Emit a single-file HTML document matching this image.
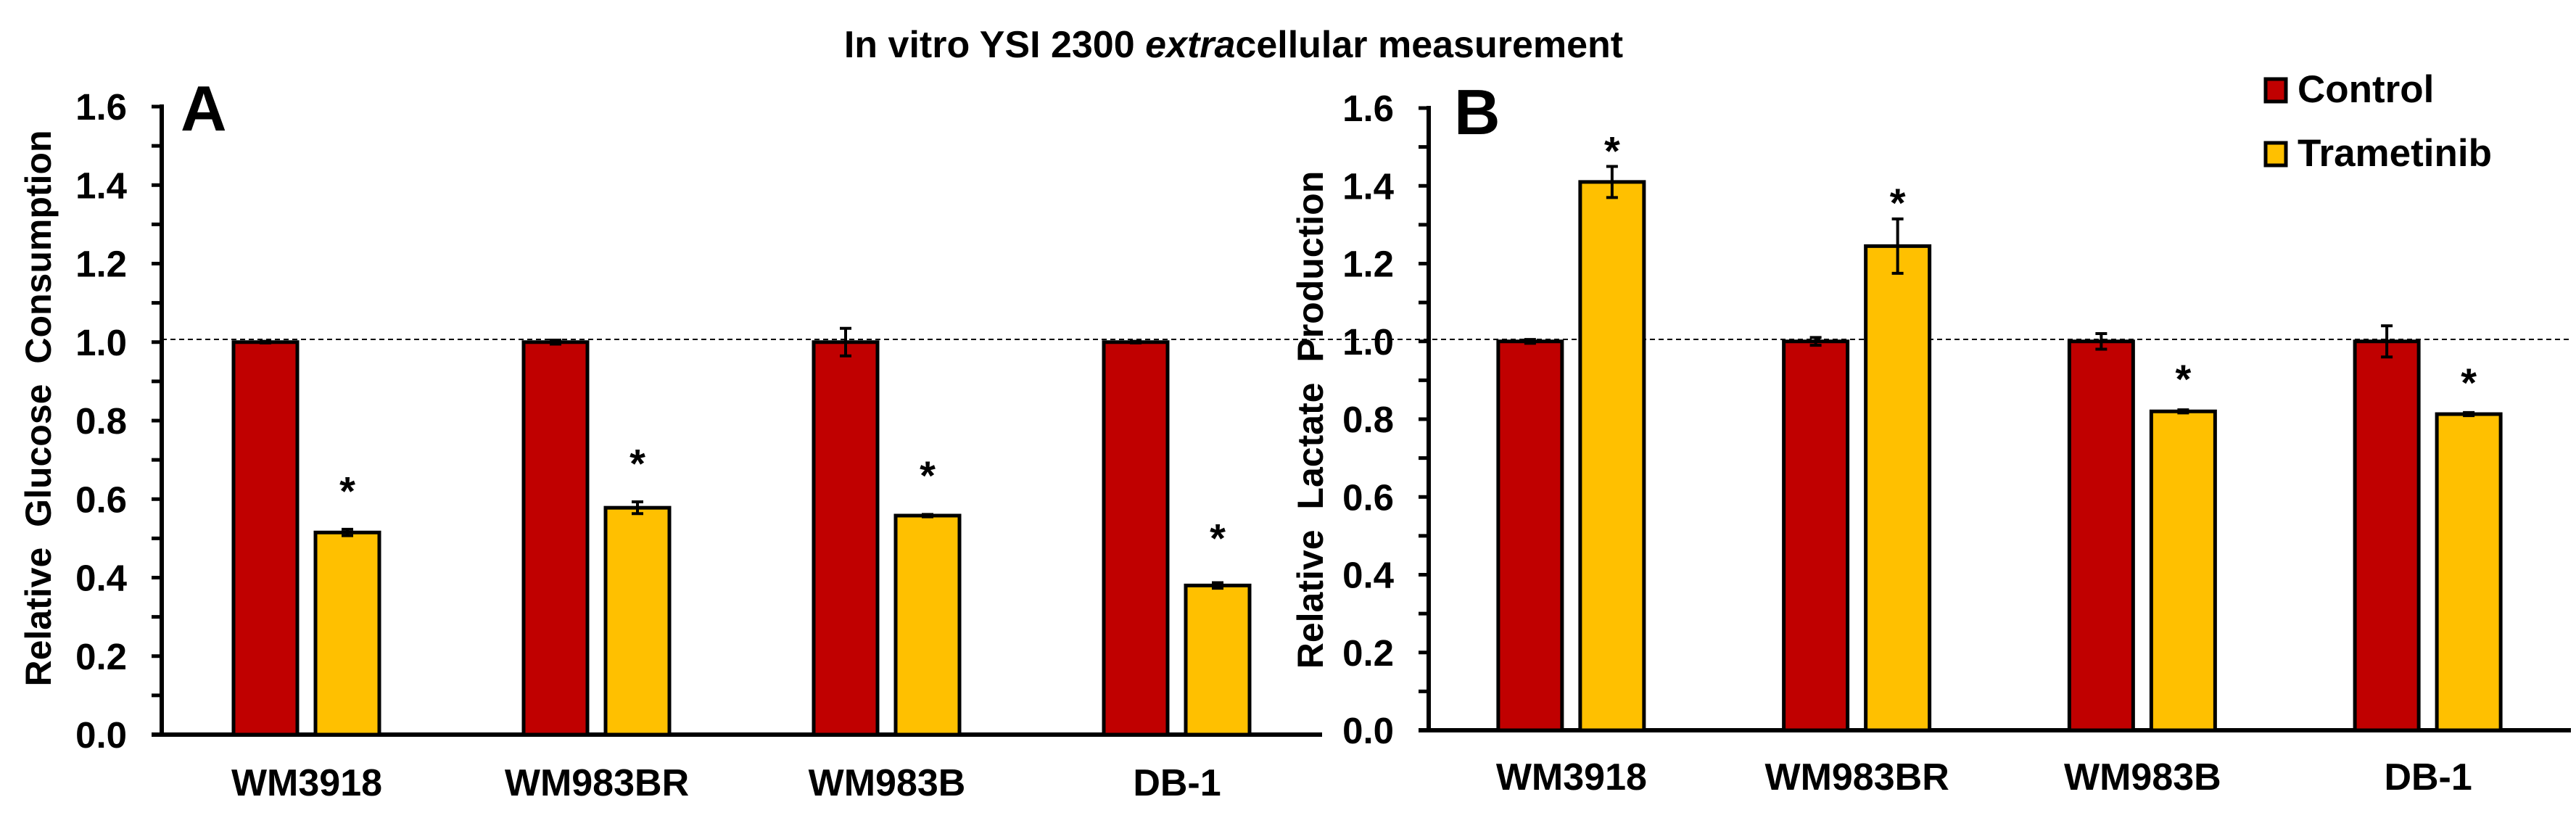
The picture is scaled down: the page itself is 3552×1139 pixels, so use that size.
<!DOCTYPE html>
<html><head><meta charset="utf-8"><style>
html,body{margin:0;padding:0;background:#fff;}
svg{display:block;font-family:"Liberation Sans",Arial,sans-serif;}
</style></head><body>
<svg id="chart" width="3552" height="1139" viewBox="0 0 3552 1139" xmlns="http://www.w3.org/2000/svg">
<text x="1701" y="79" font-size="52" font-weight="bold" text-anchor="middle">In vitro YSI 2300 <tspan font-style="italic">extra</tspan>cellular measurement</text>
<line x1="223" x2="3545" y1="468" y2="468" stroke="#000" stroke-width="2" stroke-dasharray="7,5"/>
<g id="gA"></g>
<g id="gB"></g>
<g>
<rect x="3124" y="109" width="28" height="31" fill="#C00000" stroke="#000" stroke-width="5"/>
<text x="3168" y="141" font-size="53" font-weight="bold">Control</text>
<rect x="3124" y="197" width="28" height="31" fill="#FFC000" stroke="#000" stroke-width="5"/>
<text x="3168" y="229" font-size="53" font-weight="bold">Trametinib</text>
</g>
</svg>
<script>
const categories = ["WM3918","WM983BR","WM983B","DB-1"];
const yTicks = ["0.0","0.2","0.4","0.6","0.8","1.0","1.2","1.4","1.6"];
const glucoseControl = [1.0, 1.0, 1.0, 1.0];
const glucoseControlErr = [0.002, 0.005, 0.035, 0.002];
const glucoseTram = [0.515, 0.578, 0.558, 0.38];
const glucoseTramErr = [0.008, 0.015, 0.003, 0.007];
const glucoseStars = [0.64, 0.71, 0.68, 0.52];
const lactateControl = [1.0, 1.0, 1.0, 1.0];
const lactateControlErr = [0.005, 0.01, 0.02, 0.04];
const lactateTram = [1.41, 1.245, 0.82, 0.813];
const lactateTramErr = [0.04, 0.07, 0.004, 0.004];
const lactateStars = [1.51, 1.376, 0.923, 0.914];

const NS = "http://www.w3.org/2000/svg";
function mk(parent, tag, attrs, text){
  const e = document.createElementNS(NS, tag);
  for (const k in attrs) e.setAttribute(k, attrs[k]);
  if (text !== undefined) e.textContent = text;
  parent.appendChild(e);
  return e;
}
function panel(g, cfg){
  const yS = v => cfg.y0 - v * (cfg.y0 - cfg.y16) / 1.6;
  const catW = (cfg.x1 - cfg.x0) / categories.length;
  const xC = i => cfg.x0 + catW * (i + 0.5);
  // axes
  let a = mk(g, "line", {x1: cfg.x0, x2: cfg.x0, y1: yS(1.6)-3, y2: cfg.y0, stroke: "#000", "stroke-width": 6});
  
  
  for (let k = 0; k <= 16; k++) {
    const v = k / 10;
    const t = mk(g, "line", {x1: cfg.x0 - 14, x2: cfg.x0, y1: yS(v), y2: yS(v), stroke: "#000", "stroke-width": 5});
    
    
  }
  yTicks.forEach((lab, k) => {
    const t = mk(g, "text", {x: cfg.x0 - 48, y: yS(k * 0.2) + 18, "font-size": 51, "font-weight": "bold", "text-anchor": "end"}, lab);
    
    
  });
  const xa = mk(g, "line", {x1: cfg.x0 - 14, x2: cfg.x1, y1: cfg.y0, y2: cfg.y0, stroke: "#000", "stroke-width": 6});
  
  
  const yt = mk(g, "text", {x: 0, y: 0, "font-size": 50, "font-weight": "bold", "text-anchor": "middle", "word-spacing": "14",
    transform: `translate(${cfg.titleX},${cfg.titleY}) rotate(-90)`}, cfg.title);
  
  
  const pl = mk(g, "text", {x: cfg.labelX, y: cfg.labelY, "font-size": 88, "font-weight": "bold"}, cfg.label);
  
  
  const bw = 88;
  function bar(x, v, err, color, name){
    const r = mk(g, "rect", {x: x, y: yS(v), width: bw, height: cfg.y0 - yS(v), fill: color, stroke: "#000", "stroke-width": 5});
    
    
    const cx = x + bw / 2;
    const e = mk(g, "path", {d: `M${cx},${yS(v+err)}V${yS(v-err)}M${cx-8},${yS(v+err)}H${cx+8}M${cx-8},${yS(v-err)}H${cx+8}`, stroke: "#000", "stroke-width": 4, fill: "none"});
    
    
  }
  categories.forEach((c, i) => {
    const cx = xC(i);
    bar(cx - 101, cfg.ctrl[i], cfg.ctrlErr[i], "#C00000", "bar-control-" + c.toLowerCase());
    bar(cx + 12, cfg.tram[i], cfg.tramErr[i], "#FFC000", "bar-trametinib-" + c.toLowerCase());
    const s = mk(g, "text", {x: cx + 56, y: yS(cfg.stars[i]) + 30, "font-size": 56, "font-weight": "bold", "text-anchor": "middle"}, "*");
    
    
    const l = mk(g, "text", {x: cx, y: cfg.catY, "font-size": 52, "font-weight": "bold", "text-anchor": "middle"}, c);
    
    
  });
}
panel(document.getElementById("gA"), {x0: 223, x1: 1823, y0: 1013, y16: 147, catY: 1097,
  title: "Relative Glucose Consumption", titleX: 70, titleY: 563, label: "A", labelX: 249, labelY: 180,
  ctrl: glucoseControl, ctrlErr: glucoseControlErr, tram: glucoseTram, tramErr: glucoseTramErr, stars: glucoseStars});
panel(document.getElementById("gB"), {x0: 1970, x1: 3545, y0: 1007, y16: 149, catY: 1089,
  title: "Relative Lactate Production", titleX: 1824, titleY: 579, label: "B", labelX: 2005, labelY: 185,
  ctrl: lactateControl, ctrlErr: lactateControlErr, tram: lactateTram, tramErr: lactateTramErr, stars: lactateStars});
</script>
</body></html>
